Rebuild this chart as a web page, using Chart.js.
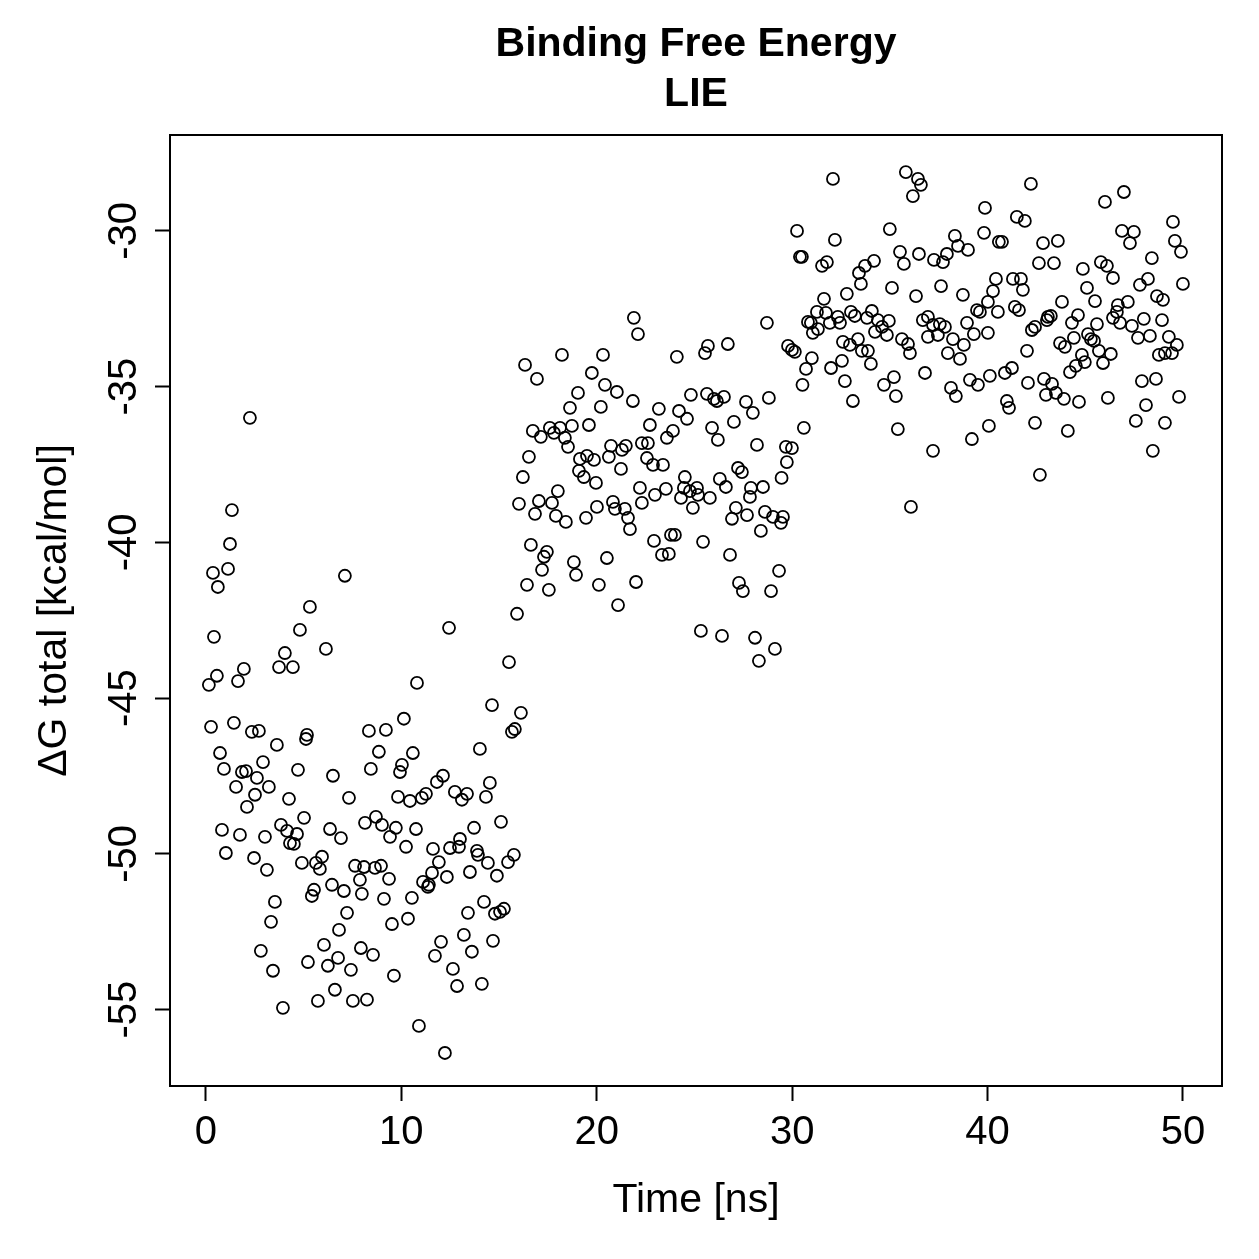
<!DOCTYPE html>
<html>
<head>
<meta charset="utf-8">
<script src="https://cdn.jsdelivr.net/npm/chart.js@4.4.1/dist/chart.umd.min.js"></script>
<style>
  html, body { margin: 0; padding: 0; background: #fff; }
  canvas { display: block; }
</style>
</head>
<body>
<canvas id="chart" width="1259" height="1259"></canvas>
<script>
const xTicks = [0, 10, 20, 30, 40, 50];
const yTicks = [-55, -50, -45, -40, -35, -30];

// 0 - 16 ns
const timeA = [
  2.25, 1.33, 1.23, 0.36, 1.13, 0.61, 7.11, 5.32, 4.81, 0.41, 6.14, 4.04, 3.74, 4.45, 1.94, 0.56, 0.15, 1.64, 0.26, 1.43, 2.35, 2.71, 5.17,
  12.44, 15.51, 10.80, 14.64, 16.12, 10.13, 8.34, 9.21, 15.66, 15.81, 15.92,
  3.63, 5.12, 0.72, 0.92, 1.84, 2.05, 2.92, 4.71, 6.50, 2.61, 1.54, 3.22, 2.51, 2.10, 4.25, 7.32, 5.02, 3.84, 4.15, 4.66,
  4.30, 4.50, 0.82, 1.74, 3.02, 6.35, 6.91, 1.02, 2.46, 3.12, 4.91, 5.63, 5.94, 5.83, 6.45, 7.06, 5.53, 5.42, 3.53, 7.22,
  3.33, 6.81, 6.04, 2.81, 6.76, 5.22, 6.24, 7.42, 3.43, 6.60, 5.73, 7.52, 3.94, 7.63,
  8.85, 10.59, 14.02, 8.44, 9.93, 10.03, 11.82, 12.13, 14.53, 9.83, 10.44, 11.05, 11.26, 12.74, 13.36, 13.10, 14.33, 8.14, 8.70, 9.01,
  9.72, 9.42, 10.75, 13.72, 15.10, 10.24, 11.62, 12.49, 13.00, 12.95, 13.87, 13.92, 14.43, 15.46, 15.76, 11.92, 8.09, 8.65, 8.96, 7.88,
  9.37, 11.57, 11.11, 11.41, 11.36, 12.33, 13.51, 14.89, 7.98, 9.11, 10.54, 14.23, 13.41, 14.79, 15.05, 15.25, 10.34, 9.52, 13.20, 12.03,
  14.69, 7.93, 8.55, 13.61, 11.72, 12.64, 9.62, 12.85, 14.12, 8.24, 10.90, 12.23
];
const dgA = [
  -36.00, -38.96, -40.05, -40.98, -40.85, -41.43, -41.07, -42.07, -42.81, -43.03, -43.42, -43.55, -44.00, -44.00, -44.06, -44.28, -44.57, -44.45, -45.92, -45.79, -46.08, -46.05, -46.18,
  -42.74, -43.84, -44.51, -45.22, -45.47, -45.66, -46.05, -46.02, -46.08, -45.99, -42.29,
  -46.50, -46.31, -46.76, -47.27, -47.37, -47.34, -47.05, -47.30, -47.49, -47.56, -47.85, -47.85, -48.10, -48.49, -48.23, -48.20, -48.84, -49.07, -49.26, -49.36,
  -49.65, -49.68, -49.23, -49.39, -49.45, -49.20, -49.49, -49.97, -50.13, -50.51, -50.29, -50.29, -50.09, -50.48, -50.99, -51.19, -51.15, -51.35, -51.54, -51.89,
  -52.18, -52.44, -52.92, -53.11, -53.34, -53.47, -53.59, -53.72, -53.75, -54.36, -54.72, -54.72, -54.94, -50.38,
  -46.72, -46.76, -46.63, -47.27, -47.37, -47.14, -47.69, -47.49, -47.72, -48.17, -48.30, -48.20, -48.07, -48.01, -48.07, -48.26, -48.17, -49.00, -48.81, -49.07,
  -49.16, -49.45, -49.20, -49.16, -48.97, -49.77, -49.84, -49.81, -49.52, -49.77, -49.90, -50.03, -50.29, -50.26, -50.03, -50.26, -50.42, -50.45, -50.38, -50.83,
  -50.80, -50.61, -50.90, -50.99, -51.06, -50.74, -50.58, -50.70, -51.28, -51.44, -51.41, -51.54, -51.89, -51.92, -51.86, -51.76, -52.08, -52.25, -52.60, -52.82,
  -52.79, -53.02, -53.24, -53.14, -53.27, -53.69, -53.91, -54.24, -54.17, -54.68, -55.52, -56.39
];

// 16 - 30 ns
const timeB = [
  21.90, 22.11, 18.22, 20.32, 16.33, 16.94, 19.75, 20.42, 21.03, 19.04,
  21.85, 18.63, 20.21, 23.18, 16.73, 17.14, 17.60, 17.81, 18.12, 18.73,
  19.60, 18.37, 18.53, 22.72, 20.73, 21.49, 21.29, 22.31, 22.62, 16.53,
  19.50, 19.14, 19.86, 20.62, 22.57, 22.88, 19.09, 19.34, 19.96, 21.24,
  16.22, 18.01, 22.21, 28.71, 24.10, 25.69, 25.54, 26.71, 29.79, 29.99,
  30.14, 30.53, 24.82, 25.64, 26.00, 26.15, 26.51, 27.64, 27.99, 28.81,
  24.21, 24.62, 23.90, 23.59, 25.90, 26.20, 27.02, 30.60, 28.20, 29.68,
  29.99, 29.73, 23.39, 24.51, 27.23, 27.43, 26.30, 29.46, 26.61, 27.89,
  28.51, 22.98, 16.02, 17.04, 17.71, 16.84, 17.91, 18.42, 19.45, 20.01,
  20.83, 20.93, 21.44, 21.60, 21.70, 22.31, 22.93, 16.63, 17.45, 17.30,
  17.20, 18.83, 18.94, 20.52, 16.43, 17.55, 20.11, 22.01, 21.09, 23.54,
  24.31, 24.46, 24.77, 25.13, 25.18, 25.79, 24.92, 27.84, 27.12, 26.92,
  27.69, 28.61, 29.02, 29.53, 29.43, 28.40, 23.80, 24.00, 23.34, 23.69,
  25.44, 26.82, 29.33, 27.28, 27.48, 28.92, 25.33, 26.41, 28.10, 29.12,
  28.30
];
const dgB = [
  -32.79, -33.31, -33.98, -33.98, -34.30, -34.75, -34.56, -34.94, -35.17, -35.20,
  -35.46, -35.68, -35.65, -35.71, -36.42, -36.61, -36.32, -36.48, -36.32, -36.26,
  -36.23, -36.64, -36.93, -36.23, -36.90, -36.90, -37.03, -36.81, -36.81, -37.25,
  -37.22, -37.32, -37.35, -37.25, -37.29, -37.51, -37.70, -37.90, -38.09, -37.64,
  -37.90, -38.35, -38.25, -32.95, -34.04, -33.69, -33.92, -33.63, -33.69, -33.82,
  -33.88, -34.94, -35.26, -35.23, -35.39, -35.46, -35.33, -35.49, -35.84, -35.36,
  -35.78, -36.03, -36.42, -36.64, -36.32, -36.71, -36.13, -36.32, -36.87, -36.93,
  -36.97, -37.42, -37.51, -37.90, -37.61, -37.74, -37.96, -37.93, -38.22, -38.25,
  -38.22, -38.47, -38.76, -38.67, -38.73, -39.08, -39.15, -39.34, -39.21, -38.86,
  -38.70, -38.92, -38.92, -39.21, -39.57, -38.73, -39.95, -40.08, -40.30, -40.46,
  -40.88, -40.63, -41.04, -40.50, -41.36, -41.52, -41.36, -41.27, -42.01, -38.28,
  -38.57, -38.25, -38.35, -38.25, -38.47, -38.57, -38.89, -38.54, -38.89, -39.24,
  -39.12, -39.02, -39.18, -39.18, -39.37, -39.63, -39.76, -39.76, -40.40, -40.37,
  -39.98, -40.40, -40.91, -41.30, -41.56, -41.56, -42.84, -43.00, -43.06, -43.42,
  -43.80
];

// 30 - 50 ns
const timeC = [
  32.09, 35.82, 36.44, 36.59, 36.18, 39.87, 30.25, 32.19, 35.00, 38.33,
  38.49, 39.00, 39.82, 30.40, 30.50, 31.53, 31.78, 35.52, 35.72, 36.49,
  37.26, 37.72, 37.92, 33.42, 33.73, 34.19, 33.52, 32.80, 35.11, 36.34,
  37.62, 38.74, 31.63, 31.27, 31.73, 30.81, 30.96, 31.32, 31.93, 32.34,
  32.45, 33.01, 33.21, 33.83, 34.08, 34.39, 34.60, 34.95, 36.69, 36.95,
  37.21, 37.56, 37.82, 38.95, 39.46, 39.61, 40.02, 42.22, 46.01, 46.98,
  41.50, 41.91, 40.58, 40.74, 42.84, 43.60, 46.88, 47.49, 47.29, 49.49,
  49.59, 49.90, 48.41, 42.63, 43.40, 44.88, 45.80, 46.11, 46.42, 40.43,
  40.28, 41.30, 41.71, 41.81, 47.80, 48.21, 50.00, 45.09, 40.53, 41.40,
  41.61, 43.81, 45.50, 46.67, 47.18, 46.62, 46.42, 46.78, 48.67, 48.98,
  44.63, 44.32, 43.09, 43.24, 43.04, 45.60, 42.43, 42.27, 47.39, 48.00,
  48.93, 40.02, 31.06, 32.60, 32.96, 33.37, 33.57, 33.88, 34.24, 34.85,
  35.62, 35.93, 36.03, 36.95, 37.46, 38.23, 38.79, 37.97, 38.59, 39.30,
  31.01, 32.55, 34.03, 30.71, 31.99, 32.70, 34.70, 35.21, 35.31, 36.80,
  38.13, 38.38, 39.10, 39.51, 40.12, 33.11, 35.41, 40.07, 39.20, 37.21,
  36.08, 43.71, 43.96, 44.42, 45.14, 45.29, 45.45, 47.70, 48.31, 49.28,
  49.69, 49.44, 49.08, 48.77, 42.02, 44.83, 44.98, 45.70, 46.31, 45.91,
  44.52, 44.22, 41.25, 40.89, 42.07, 42.89, 43.30, 42.99, 43.50, 43.91,
  44.68, 46.16, 47.90, 48.62, 49.80, 48.11, 40.99, 41.10, 42.43, 44.11,
  47.59, 49.08, 48.46, 42.68
];
const dgC = [
  -28.33, -28.11, -28.33, -28.52, -28.88, -29.26, -30.00, -30.29, -29.94, -30.16,
  -30.48, -30.61, -30.06, -30.83, -30.83, -31.12, -31.00, -30.67, -31.06, -30.74,
  -30.93, -31.00, -30.74, -31.35, -31.12, -30.96, -31.70, -32.02, -31.83, -32.09,
  -31.77, -32.05, -32.18, -32.60, -32.63, -32.92, -32.95, -33.15, -32.95, -32.76,
  -32.95, -32.60, -32.73, -32.79, -32.57, -32.86, -33.08, -32.89, -32.86, -32.76,
  -33.02, -32.99, -33.08, -32.95, -32.54, -32.60, -32.28, -28.49, -29.07, -28.75,
  -29.55, -29.68, -30.35, -30.35, -30.39, -30.32, -30.00, -30.03, -30.39, -29.71,
  -30.32, -30.67, -30.87, -31.03, -31.03, -31.22, -31.00, -31.12, -31.51, -31.54,
  -31.93, -31.54, -31.54, -31.89, -31.73, -31.54, -31.70, -31.83, -32.60, -32.44,
  -32.54, -32.28, -32.25, -32.38, -32.28, -32.60, -32.79, -32.95, -32.09, -32.21,
  -32.70, -32.95, -32.76, -32.73, -32.86, -32.99, -33.08, -33.18, -33.05, -32.82,
  -32.86, -33.27, -33.27, -33.56, -33.66, -33.47, -33.85, -33.85, -33.24, -33.34,
  -33.47, -33.63, -33.92, -33.40, -33.34, -33.47, -33.66, -33.92, -34.11, -33.31,
  -34.08, -34.17, -34.27, -34.43, -34.40, -34.82, -34.94, -34.69, -35.30, -34.56,
  -35.04, -35.30, -34.78, -34.94, -34.65, -35.46, -36.36, -36.26, -36.68, -37.06,
  -38.86, -33.60, -33.72, -33.43, -33.31, -33.47, -33.53, -33.43, -33.37, -33.40,
  -33.66, -33.92, -33.92, -33.98, -33.85, -33.98, -34.21, -33.85, -33.95, -34.24,
  -34.33, -34.53, -34.40, -34.56, -34.88, -34.75, -34.91, -35.26, -35.20, -35.39,
  -35.49, -35.36, -34.82, -34.75, -35.33, -35.59, -35.46, -35.68, -36.16, -36.42,
  -36.10, -36.16, -37.06, -37.83
];

const FONT = "'Liberation Sans', Arial, Helvetica, sans-serif";

const points = [];
[[timeA, dgA], [timeB, dgB], [timeC, dgC]].forEach(([t, g]) => {
  t.forEach((x, i) => points.push({ x: x, y: g[i] }));
});

// full box round the plot region, like R's box()
const boxPlugin = {
  id: 'plotBox',
  afterDraw(chart) {
    const { ctx, chartArea: a } = chart;
    ctx.save();
    ctx.strokeStyle = '#000';
    ctx.lineWidth = 2;
    ctx.strokeRect(a.left, a.top, a.right - a.left, a.bottom - a.top);
    ctx.restore();
  },
};

Chart.defaults.color = '#000';
Chart.defaults.font.family = FONT;

new Chart(document.getElementById('chart').getContext('2d'), {
  type: 'scatter',
  data: {
    datasets: [{
      data: points,
      pointStyle: 'circle',
      pointRadius: 6,
      pointBorderWidth: 1.8,
      pointBorderColor: '#000',
      pointBackgroundColor: 'rgba(0,0,0,0)',
    }],
  },
  options: {
    responsive: false,
    animation: false,
    devicePixelRatio: 1,
    layout: { padding: { top: 0, right: 37, bottom: 0, left: 0 } },
    plugins: {
      legend: { display: false },
      tooltip: { enabled: false },
      title: {
        display: true,
        fullSize: false,
        text: ['Binding Free Energy', 'LIE'],
        font: { size: 41, weight: 'bold', lineHeight: '50px' },
        color: '#000',
        padding: { top: 20, bottom: 15 },
      },
    },
    scales: {
      x: {
        type: 'linear',
        min: -1.84,
        max: 52,
        afterBuildTicks: (s) => { s.ticks = xTicks.map(v => ({ value: v })); },
        afterFit: (s) => { s.height = 173; },
        ticks: {
          font: { size: 40 },
          padding: 8,
          maxRotation: 0,
          autoSkip: false,
          callback: (v) => String(v),
        },
        grid: { drawOnChartArea: false, tickLength: 15, tickWidth: 2, tickColor: '#000' },
        border: { display: true, color: '#000', width: 2 },
        title: {
          display: true,
          text: 'Time [ns]',
          font: { size: 41 },
          padding: { top: 0, bottom: 34 },
        },
      },
      y: {
        type: 'linear',
        min: -57.45,
        max: -26.92,
        afterBuildTicks: (s) => { s.ticks = yTicks.map(v => ({ value: v })); },
        afterFit: (s) => { s.width = 170; },
        ticks: {
          font: { size: 40 },
          padding: 1,
          minRotation: 90,
          maxRotation: 90,
          crossAlign: 'center',
          autoSkip: false,
          callback: (v) => String(v),
        },
        grid: { drawOnChartArea: false, tickLength: 15, tickWidth: 2, tickColor: '#000' },
        border: { display: true, color: '#000', width: 2 },
        title: {
          display: true,
          text: 'ΔG total [kcal/mol]',
          font: { size: 41 },
          padding: { top: 30, bottom: 0 },
        },
      },
    },
  },
  plugins: [boxPlugin],
});
</script>
</body>
</html>
